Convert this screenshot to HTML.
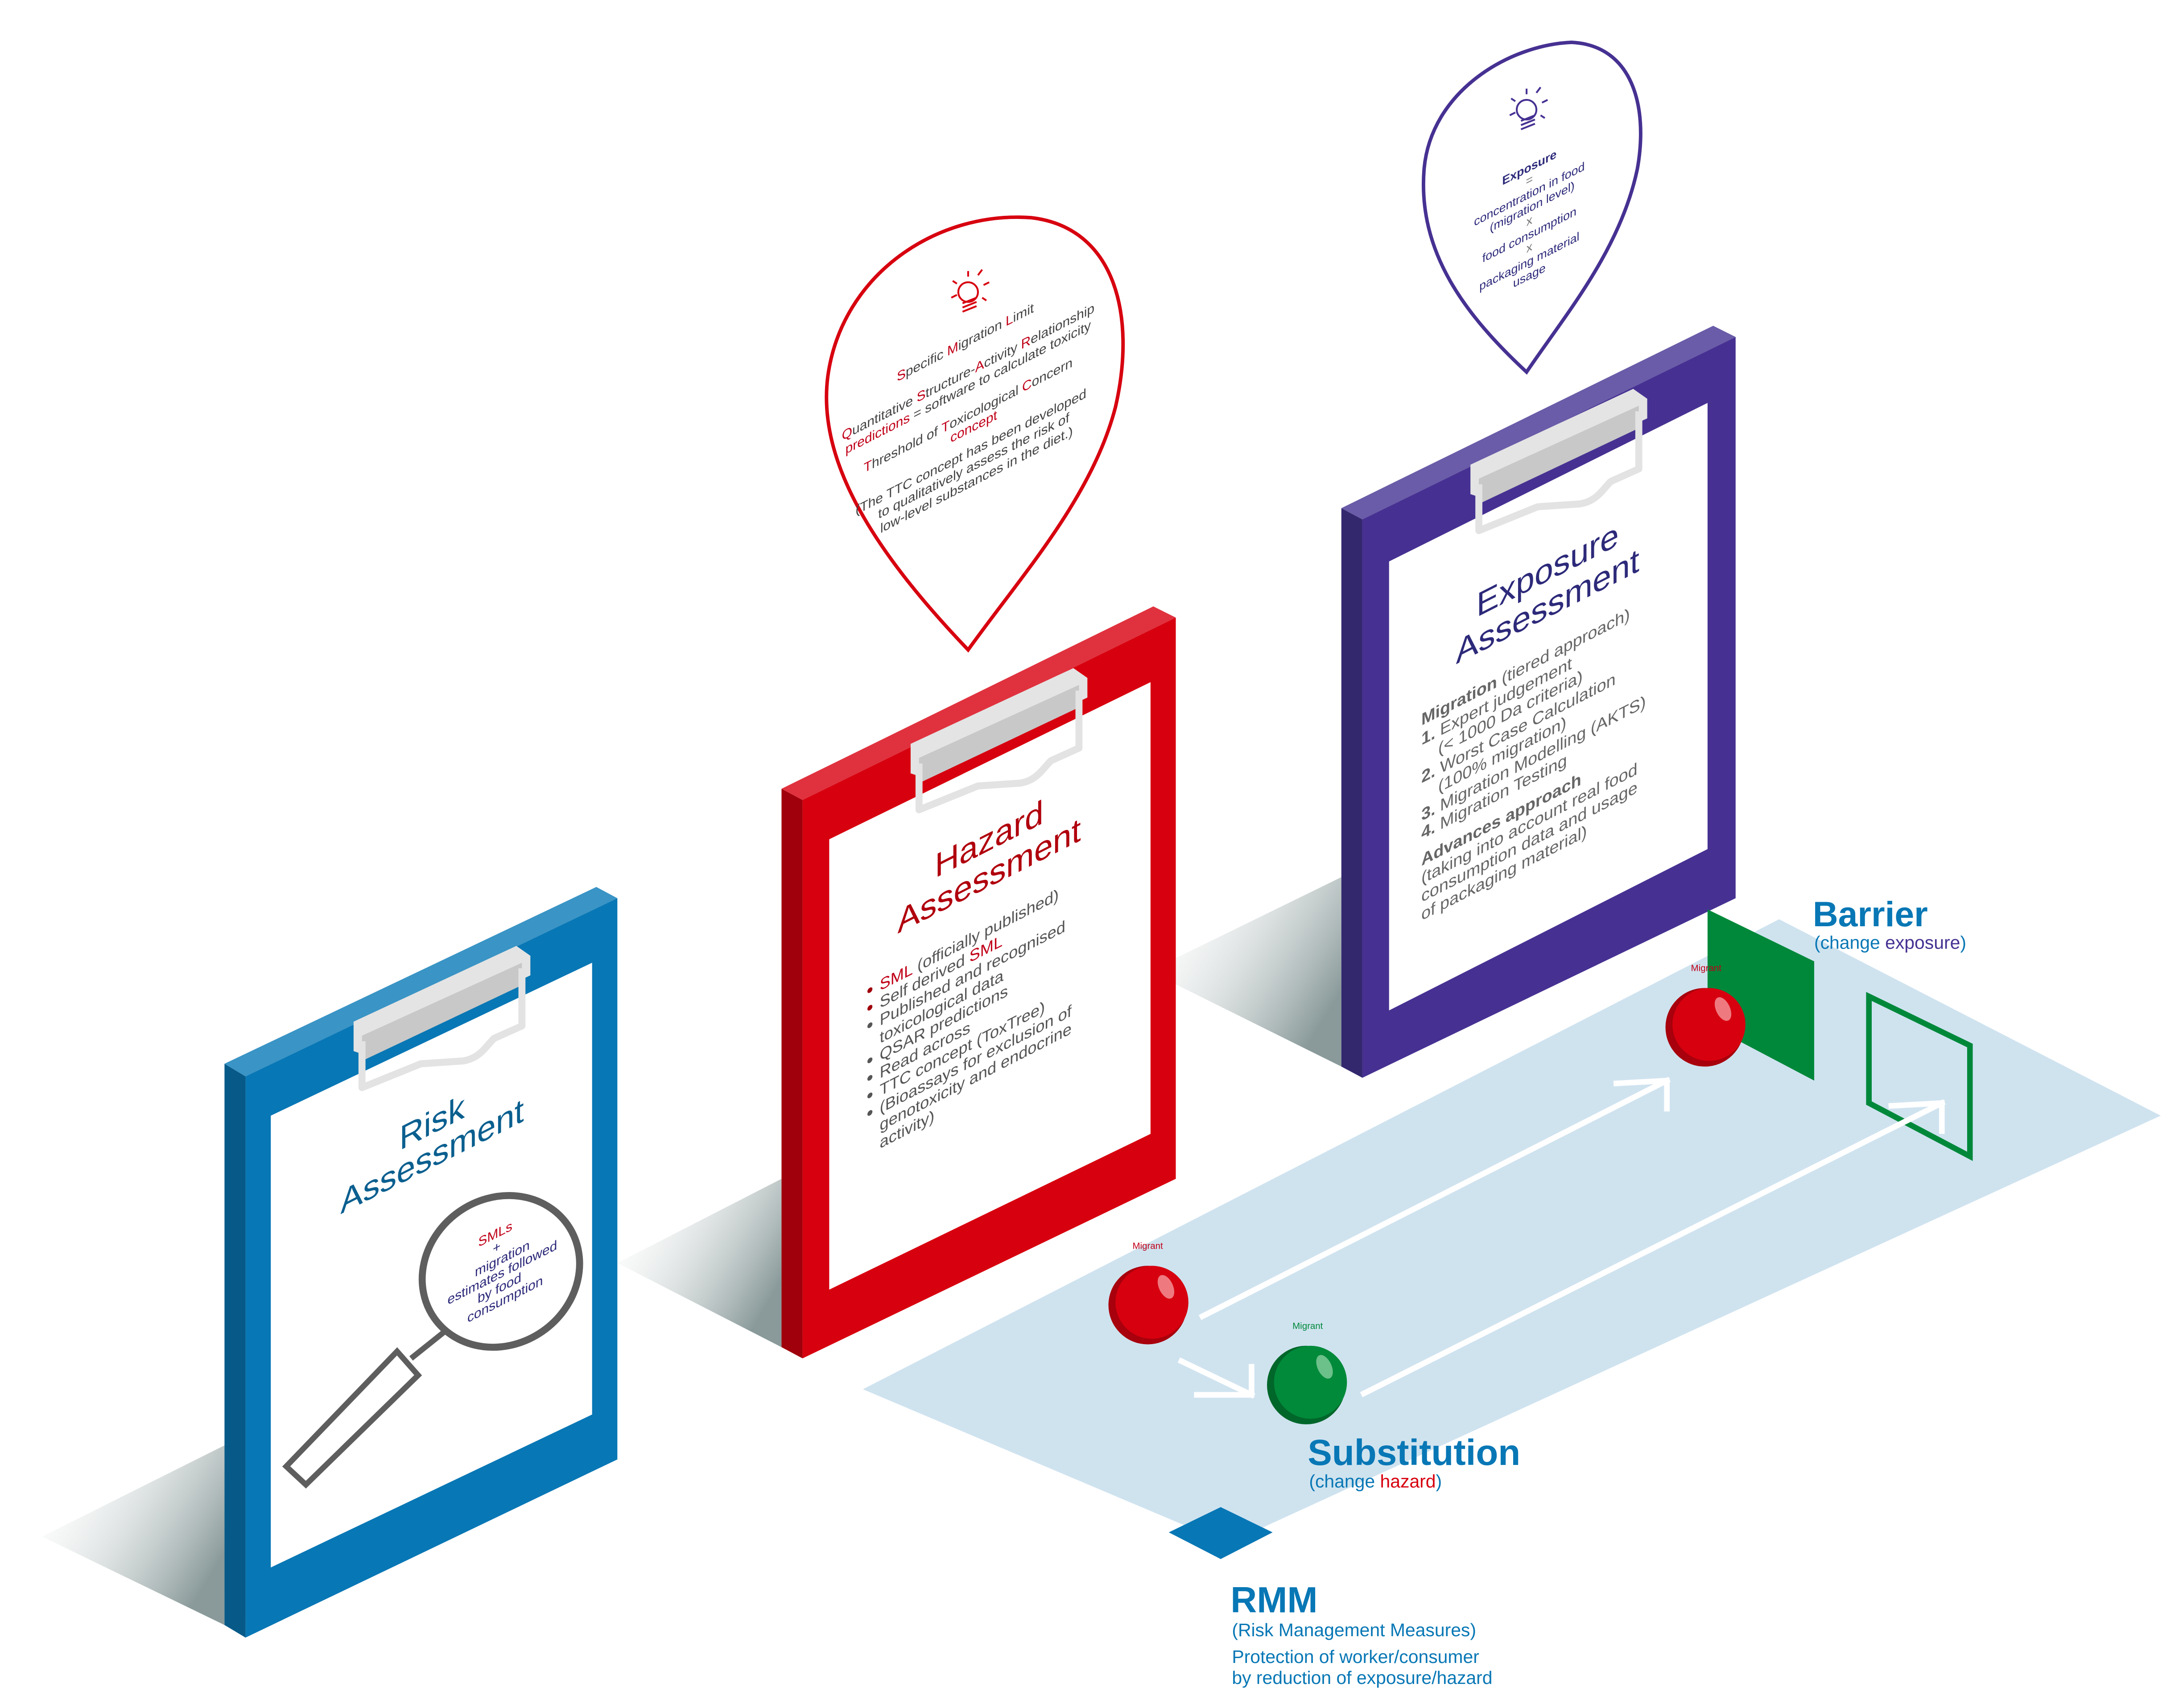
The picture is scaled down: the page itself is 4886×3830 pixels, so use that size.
<!DOCTYPE html>
<html><head><meta charset="utf-8"><style>
html,body{margin:0;padding:0;background:#fff}
svg{display:block}
text{font-family:"Liberation Sans",sans-serif}
.n{font-family:"Liberation Sans Narrow","Liberation Sans",sans-serif}
</style></head><body>
<svg width="4886" height="3830" viewBox="0 0 1553 1217" xmlns="http://www.w3.org/2000/svg">
<defs>
<linearGradient id="sh" x1="0" y1="0" x2="1" y2="0.6">
<stop offset="0" stop-color="#fff" stop-opacity="0"/><stop offset="1" stop-color="#8a9a9a"/>
</linearGradient>
</defs>
<rect width="1553" height="1217" fill="#fff"/>

<polygon points="615,990 1268,655 1540,795 875,1100" fill="#cfe3ef"/>
<polygon points="833,1092 870,1074 907,1092 870,1111" fill="#0877b5"/>

<polygon points="30,1095 160,1030 160,1158" fill="url(#sh)"/>
<polygon points="440,900 557,840 557,960" fill="url(#sh)"/>
<polygon points="819,692 956,625 956,760" fill="url(#sh)"/>

<g>
<polygon points="160,758 175,767 175,1167 160,1158" fill="#075a88"/>
<polygon points="160,758 425,632 440,640 175,767" fill="#3a94c5"/>
<polygon points="175,767 440,640 440,1040 175,1167" fill="#0877b5"/>
<polygon points="193,795 422,686 422,1008 193,1117" fill="#fff"/>
<polygon points="252,728 368,674 378,681 378,695 258,751 252,749" fill="#e4e4e4"/>
<polygon points="258,738 372,686 372,702 258,756" fill="#c8c8c8"/>
<path d="M258,742 L258,775 L300,758 L330,756 C342,754 346,746 352,740 L372,731 L372,690" fill="none" stroke="#e3e3e3" stroke-width="5" stroke-linejoin="round"/>
</g>
<g>
<polygon points="557,562 572,570 572,968 557,960" fill="#a0000b"/>
<polygon points="557,562 822,432 838,440 572,570" fill="#e0323e"/>
<polygon points="572,570 838,440 838,840 572,968" fill="#d7000f"/>
<polygon points="591,598 820,486 820,808 591,919" fill="#fff"/>
<g transform="translate(397,-198)">
<polygon points="252,728 368,674 378,681 378,695 258,751 252,749" fill="#e4e4e4"/>
<polygon points="258,738 372,686 372,702 258,756" fill="#c8c8c8"/>
<path d="M258,742 L258,775 L300,758 L330,756 C342,754 346,746 352,740 L372,731 L372,690" fill="none" stroke="#e3e3e3" stroke-width="5" stroke-linejoin="round"/>
</g>
</g>
<g>
<polygon points="956,362 971,370 971,768 956,760" fill="#33286e"/>
<polygon points="956,362 1221,232 1237,240 971,370" fill="#6a5ca8"/>
<polygon points="971,370 1237,240 1237,640 971,768" fill="#463192"/>
<polygon points="990,400 1217,287 1217,605 990,720" fill="#fff"/>
<g transform="translate(796,-397)">
<polygon points="252,728 368,674 378,681 378,695 258,751 252,749" fill="#e4e4e4"/>
<polygon points="258,738 372,686 372,702 258,756" fill="#c8c8c8"/>
<path d="M258,742 L258,775 L300,758 L330,756 C342,754 346,746 352,740 L372,731 L372,690" fill="none" stroke="#e3e3e3" stroke-width="5" stroke-linejoin="round"/>
</g>
</g>

<g transform="translate(308,832) skewY(-27)" fill="#0a5f8f" font-size="24" text-anchor="middle">
<text x="0" y="-24">Risk</text><text x="0" y="0">Assessment</text>
</g>
<ellipse cx="357" cy="906" rx="58" ry="52" transform="rotate(-35 357 906)" fill="none" stroke="#5e5e5e" stroke-width="5"/>
<line x1="318" y1="948" x2="293" y2="968" stroke="#5e5e5e" stroke-width="4"/>
<polygon points="283,963 298,980 218,1058 204,1045" fill="none" stroke="#5e5e5e" stroke-width="4"/>
<g transform="translate(358,880) skewY(-27)" font-size="9.5" text-anchor="middle" fill="#2d2a7a">
<text x="-5" y="0" fill="#c00018">SMLs</text><text x="-4" y="10">+</text><text x="0" y="20">migration</text>
<text x="0" y="30">estimates followed</text><text x="-2" y="40">by food</text><text x="2" y="50">consumption</text>
</g>

<g transform="translate(705,632) skewY(-27)" fill="#b0000d" font-size="24" text-anchor="middle">
<text x="0" y="-26">Hazard</text><text x="0" y="0">Assessment</text>
</g>
<g transform="translate(627,706) skewY(-27)" font-size="11.5" fill="#555">
<text x="0" y="0"><tspan fill="#c00018">SML</tspan> (officially published)</text>
<text x="0" y="12.5">Self derived <tspan fill="#c00018">SML</tspan></text>
<text x="0" y="25">Published and recognised</text>
<text x="0" y="37.5">toxicological data</text>
<text x="0" y="50">QSAR predictions</text>
<text x="0" y="62.5">Read across</text>
<text x="0" y="75">TTC concept (ToxTree)</text>
<text x="0" y="87.5">(Bioassays for exclusion of</text>
<text x="0" y="100">genotoxicity and endocrine</text>
<text x="0" y="112.5">activity)</text>
<g fill="#a0000b"><circle cx="-7" cy="-4" r="1.8"/><circle cx="-7" cy="8.5" r="1.8"/></g>
<g fill="#555"><circle cx="-7" cy="21" r="1.8"/><circle cx="-7" cy="46" r="1.8"/><circle cx="-7" cy="58.5" r="1.8"/><circle cx="-7" cy="71" r="1.8"/><circle cx="-7" cy="83.5" r="1.8"/></g>
</g>

<g transform="translate(1103,440) skewY(-27)" fill="#2d2a7a" font-size="24" text-anchor="middle">
<text x="0" y="-26">Exposure</text><text x="0" y="0">Assessment</text>
</g>
<g transform="translate(1013,517) skewY(-27)" font-size="12" fill="#666">
<text x="0" y="0"><tspan font-weight="bold">Migration</tspan> (tiered approach)</text>
<text x="0" y="14"><tspan font-weight="bold">1.</tspan> Expert judgement</text>
<text x="12" y="27">(&lt; 1000 Da criteria)</text>
<text x="0" y="41"><tspan font-weight="bold">2.</tspan> Worst Case Calculation</text>
<text x="12" y="54">(100% migration)</text>
<text x="0" y="68"><tspan font-weight="bold">3.</tspan> Migration Modelling (AKTS)</text>
<text x="0" y="81"><tspan font-weight="bold">4.</tspan> Migration Testing</text>
<text x="0" y="100" font-weight="bold">Advances approach</text>
<text x="0" y="113">(taking into account real food</text>
<text x="0" y="126">consumption data and usage</text>
<text x="0" y="139">of packaging material)</text>
</g>

<path d="M690,463 C625,395 582,330 590,268 C600,195 668,150 735,155 C795,162 810,225 795,290 C778,355 728,410 690,463 Z" fill="#fff" stroke="#d7000f" stroke-width="2.5"/>
<g stroke="#d7000f" stroke-width="1.3" fill="none">
<circle cx="690" cy="208" r="7"/>
<line x1="686" y1="216" x2="696" y2="212"/><line x1="686" y1="219" x2="696" y2="215"/><line x1="686" y1="222" x2="696" y2="218"/>
<line x1="690" y1="193" x2="690" y2="197"/><line x1="697" y1="196" x2="700" y2="192"/><line x1="701" y1="203" x2="705" y2="201"/><line x1="682" y1="202" x2="679" y2="200"/><line x1="678" y1="212" x2="682" y2="210"/><line x1="700" y1="212" x2="703" y2="214"/>
</g>
<g transform="translate(690,246) skewY(-27)" font-size="9.5" text-anchor="middle" fill="#444">
<text x="-2" y="0"><tspan fill="#c00018">S</tspan>pecific <tspan fill="#c00018">M</tspan>igration <tspan fill="#c00018">L</tspan>imit</text>
<text x="0" y="22"><tspan fill="#c00018">Q</tspan>uantitative <tspan fill="#c00018">S</tspan>tructure-<tspan fill="#c00018">A</tspan>ctivity <tspan fill="#c00018">R</tspan>elationship</text>
<text x="0" y="33"><tspan fill="#c00018">predictions</tspan> = software to calculate toxicity</text>
<text x="0" y="53"><tspan fill="#c00018">T</tspan>hreshold of <tspan fill="#c00018">T</tspan>oxicological <tspan fill="#c00018">C</tspan>oncern</text>
<text x="4" y="63" fill="#c00018">concept</text>
<text x="2" y="80">(The TTC concept has been developed</text>
<text x="4" y="91">to qualitatively assess the risk of</text>
<text x="6" y="102">low-level substances in the diet.)</text>
</g>

<path d="M1088,265 C1045,225 1010,180 1015,120 C1020,65 1075,32 1120,30 C1163,32 1175,75 1167,120 C1155,178 1115,225 1088,265 Z" fill="#fff" stroke="#463192" stroke-width="2.5"/>
<g stroke="#463192" stroke-width="1.3" fill="none">
<circle cx="1088" cy="78" r="7"/>
<line x1="1084" y1="86" x2="1094" y2="82"/><line x1="1084" y1="89" x2="1094" y2="85"/><line x1="1084" y1="92" x2="1094" y2="88"/>
<line x1="1088" y1="63" x2="1088" y2="67"/><line x1="1095" y1="66" x2="1098" y2="62"/><line x1="1099" y1="73" x2="1103" y2="71"/><line x1="1080" y1="72" x2="1077" y2="70"/><line x1="1076" y1="82" x2="1080" y2="80"/><line x1="1098" y1="82" x2="1101" y2="84"/>
</g>
<g transform="translate(1090,122) skewY(-27)" font-size="8.5" text-anchor="middle" fill="#2d2a7a">
<text x="0" y="0" font-weight="bold">Exposure</text>
<text x="0" y="9" fill="#777">=</text>
<text x="0" y="19">concentration in food</text>
<text x="2" y="29">(migration level)</text>
<text x="0" y="38" fill="#777">x</text>
<text x="0" y="48">food consumption</text>
<text x="0" y="57" fill="#777">x</text>
<text x="0" y="67">packaging material</text>
<text x="0" y="77">usage</text>
</g>

<polygon points="1217,648 1293,685 1293,770 1217,730" fill="#00883a"/>
<polygon points="1332,710 1404,745 1404,824 1332,786" fill="none" stroke="#00883a" stroke-width="4"/>

<g stroke="#fff" stroke-width="4" fill="none" stroke-linecap="square">
<line x1="857" y1="938" x2="1188" y2="770"/><polyline points="1152,772 1188,770 1188,790"/>
<line x1="972" y1="993" x2="1384" y2="786"/><polyline points="1348,788 1384,786 1384,806"/>
<line x1="842" y1="970" x2="892" y2="994"/><polyline points="853,994 892,994 892,974"/>
</g>

<g>
<circle cx="818" cy="930" r="28" fill="#a8000c"/><circle cx="821" cy="928" r="26" fill="#d7000f"/><ellipse cx="831" cy="917" rx="5" ry="9" transform="rotate(-25 831 917)" fill="#ee7a80"/>
<circle cx="931" cy="987" r="28" fill="#00662a"/><circle cx="934" cy="985" r="26" fill="#008a3a"/><ellipse cx="944" cy="974" rx="5" ry="9" transform="rotate(-25 944 974)" fill="#6cc08a"/>
<circle cx="1215" cy="732" r="28" fill="#a8000c"/><circle cx="1218" cy="730" r="26" fill="#d7000f"/><ellipse cx="1228" cy="719" rx="5" ry="9" transform="rotate(-25 1228 719)" fill="#ee7a80"/>
</g>
<text class="n" x="818" y="890" font-size="6.5" fill="#c00018" text-anchor="middle">Migrant</text>
<text class="n" x="932" y="947" font-size="6.5" fill="#00883a" text-anchor="middle">Migrant</text>
<text class="n" x="1216" y="692" font-size="6.5" fill="#c00018" text-anchor="middle">Migrant</text>

<text x="1292" y="660" font-size="25" font-weight="bold" fill="#0877b5">Barrier</text>
<text class="n" x="1293" y="676" font-size="13" fill="#0877b5">(change <tspan fill="#463192">exposure</tspan>)</text>
<text x="932" y="1044" font-size="26" font-weight="bold" fill="#0877b5">Substitution</text>
<text class="n" x="933" y="1060" font-size="13" fill="#0877b5">(change <tspan fill="#d7000f">hazard</tspan>)</text>
<text x="877" y="1149" font-size="26" font-weight="bold" fill="#0877b5">RMM</text>
<text class="n" x="878" y="1166" font-size="13" fill="#0877b5">(Risk Management Measures)</text>
<text class="n" x="878" y="1185" font-size="13" fill="#0877b5">Protection of worker/consumer</text>
<text class="n" x="878" y="1200" font-size="13" fill="#0877b5">by reduction of exposure/hazard</text>
</svg>
</body></html>
